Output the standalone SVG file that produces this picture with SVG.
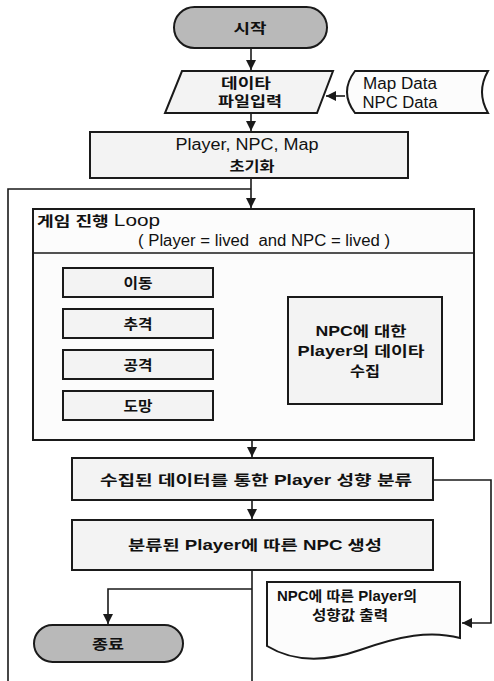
<svg xmlns="http://www.w3.org/2000/svg" width="494" height="681" viewBox="0 0 494 681">
<style>
.term{fill:#b9b9b9;stroke:#1a1a1a;stroke-width:2}
.box{fill:#f3f3f3;stroke:#1a1a1a;stroke-width:2}
.wbox{fill:#fcfcfc;stroke:#1a1a1a;stroke-width:2}
.ln{fill:none;stroke:#1a1a1a;stroke-width:1.6}
.arr{fill:none;stroke:#1a1a1a;stroke-width:1.6;marker-end:url(#ah)}
text{font-family:"Liberation Sans","Noto Sans CJK KR",sans-serif;fill:#111}
.k{font-size:14px;font-weight:bold}
.l{font-size:16px}
.m{text-anchor:middle}
</style>
<defs>
<marker id="ah" markerUnits="userSpaceOnUse" markerWidth="10" markerHeight="10" refX="10" refY="5" orient="auto">
<path d="M0,0 L10,5 L0,10 Z" fill="#1a1a1a"/>
</marker>
</defs>
<rect width="494" height="681" fill="#ffffff"/>

<g id="connectors">
<path class="arr" d="M251,48 V70"/>
<path class="arr" d="M345,96 H326"/>
<path class="arr" d="M251,113 V131"/>
<path class="ln" d="M251,178 V190"/>
<path class="arr" d="M251,190 V208"/>
<path class="ln" d="M8,681 V189 H251"/>
<path class="arr" d="M213,283 L288,346"/>
<path class="arr" d="M213,324 L288,349"/>
<path class="arr" d="M213,364 L288,352"/>
<path class="arr" d="M213,405 L288,355"/>
<path class="arr" d="M252,440 V457"/>
<path class="arr" d="M252,500 V519"/>
<path class="arr" d="M433,480 H491 V623 H462"/>
<path class="ln" d="M252,570 V681"/>
<path class="arr" d="M252,589 H108 V624"/>
</g>

<g id="start">
<rect class="term" x="174" y="7" width="153" height="41" rx="20.5"/>
<text class="k m" x="250" y="33" font-size="15" textLength="33" lengthAdjust="spacingAndGlyphs">시작</text>
</g>

<g id="input">
<polygon class="box" points="182,71 333,71 317,113 165,113"/>
<text class="k m" x="246" y="88" textLength="50" lengthAdjust="spacingAndGlyphs">데이타</text>
<text class="k m" x="250" y="106" textLength="64" lengthAdjust="spacingAndGlyphs">파일입력</text>
</g>

<g id="data">
<path class="wbox" d="M355,71 H488 Q476,92 488,113 H355 Q339,92 355,71 Z"/>
<text class="l m" x="400" y="89" textLength="74" lengthAdjust="spacingAndGlyphs">Map Data</text>
<text class="l m" x="400" y="108" textLength="75" lengthAdjust="spacingAndGlyphs">NPC Data</text>
</g>

<g id="init">
<rect class="box" x="90" y="132" width="318" height="46"/>
<text class="l m" x="247" y="150" textLength="143" lengthAdjust="spacingAndGlyphs">Player, NPC, Map</text>
<text class="k m" x="252" y="171" textLength="45" lengthAdjust="spacingAndGlyphs">초기화</text>
</g>

<g id="loop">
<rect class="wbox" x="33" y="209" width="441" height="231"/>
<line class="ln" x1="33" y1="253" x2="474" y2="253" stroke-width="2"/>
<text x="37" y="226" textLength="123" lengthAdjust="spacingAndGlyphs"><tspan class="k">게임 진행 </tspan><tspan class="l">Loop</tspan></text>
<text class="l" x="138" y="246" textLength="252" lengthAdjust="spacingAndGlyphs">( Player = lived &#160;and NPC = lived )</text>
</g>

<g id="move">
<rect class="box" x="63" y="268" width="150" height="29"/>
<text class="k m" x="138" y="288" textLength="29" lengthAdjust="spacingAndGlyphs">이동</text>
</g>
<g id="chase">
<rect class="box" x="63" y="309" width="150" height="29"/>
<text class="k m" x="138" y="329" textLength="29" lengthAdjust="spacingAndGlyphs">추격</text>
</g>
<g id="attack">
<rect class="box" x="63" y="350" width="150" height="29"/>
<text class="k m" x="138" y="370" textLength="29" lengthAdjust="spacingAndGlyphs">공격</text>
</g>
<g id="flee">
<rect class="box" x="63" y="391" width="150" height="29"/>
<text class="k m" x="138" y="411" textLength="29" lengthAdjust="spacingAndGlyphs">도망</text>
</g>

<g id="collect">
<rect class="box" x="288" y="297" width="154" height="107"/>
<text class="k m" x="361" y="336" textLength="91" lengthAdjust="spacingAndGlyphs">NPC에 대한</text>
<text class="k m" x="361" y="356" textLength="127" lengthAdjust="spacingAndGlyphs">Player의 데이타</text>
<text class="k m" x="365" y="376" textLength="30" lengthAdjust="spacingAndGlyphs">수집</text>
</g>

<g id="classify">
<rect class="box" x="72" y="458" width="361" height="42"/>
<text class="k m" x="256" y="485" textLength="312" lengthAdjust="spacingAndGlyphs">수집된 데이터를 통한 Player 성향 분류</text>
</g>

<g id="generate">
<rect class="box" x="72" y="520" width="361" height="50"/>
<text class="k m" x="255" y="550" textLength="254" lengthAdjust="spacingAndGlyphs">분류된 Player에 따른 NPC 생성</text>
</g>

<g id="output">
<path class="wbox" d="M267,582 H460 V638 C430,630 400,636 360,650 C320,664 290,660 267,646 Z"/>
<text class="k m" x="347" y="601" textLength="140" lengthAdjust="spacingAndGlyphs">NPC에 따른 Player의</text>
<text class="k m" x="350" y="620" textLength="76" lengthAdjust="spacingAndGlyphs">성향값 출력</text>
</g>

<g id="end">
<rect class="term" x="34" y="625" width="149" height="37" rx="18.5"/>
<text class="k m" x="108" y="649" font-size="15" textLength="32" lengthAdjust="spacingAndGlyphs">종료</text>
</g>
</svg>
